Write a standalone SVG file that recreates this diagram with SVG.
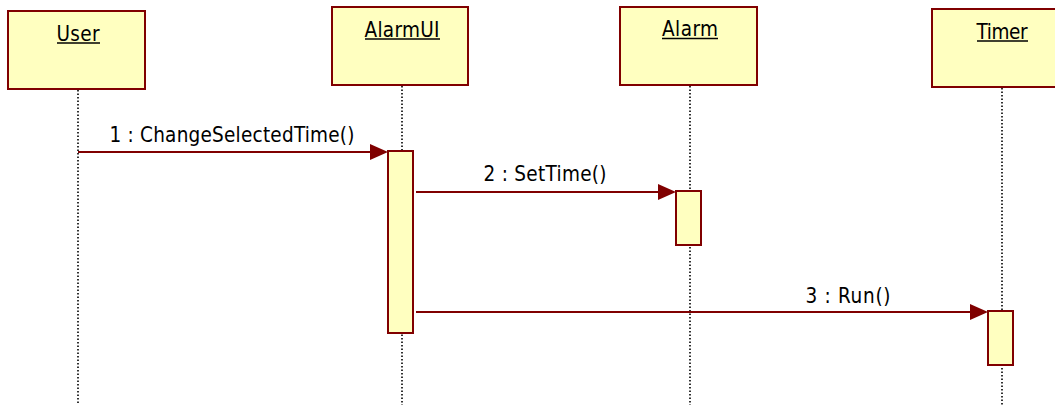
<svg xmlns="http://www.w3.org/2000/svg" width="1055" height="405" viewBox="0 0 1055 405">
<style>
.obj{fill:#FFFFC0;stroke:#800000;stroke-width:2}
.act{fill:#FFFFC0;stroke:#800000;stroke-width:2}
.life{stroke:#000;stroke-width:1.6;stroke-dasharray:1.5,2;fill:none}
.msg{stroke:#800000;stroke-width:2;fill:none}
.head{fill:#800000}
text{font-family:"DejaVu Sans Condensed","DejaVu Sans","Liberation Sans",sans-serif;font-stretch:condensed;font-size:20.5px;fill:#000}
.ul{stroke:#000;stroke-width:1.5}
</style>
<rect width="1055" height="405" fill="#fff"/>
<g id="lifelines">
<line class="life" x1="78" y1="90" x2="78" y2="405"/>
<line class="life" x1="402" y1="86" x2="402" y2="405"/>
<line class="life" x1="690" y1="86" x2="690" y2="405"/>
<line class="life" x1="1002" y1="88" x2="1002" y2="405"/>
</g>
<g id="User">
<rect class="obj" x="8" y="11" width="137" height="78"/>
<text x="78" y="41" text-anchor="middle" textLength="43">User</text>
<line class="ul" x1="57" y1="43" x2="100" y2="43"/>
</g>
<g id="AlarmUI">
<rect class="obj" x="332" y="7" width="136" height="78"/>
<text x="402" y="37" text-anchor="middle" textLength="75">AlarmUI</text>
<line class="ul" x1="365" y1="39" x2="440" y2="39"/>
<rect class="act" x="388" y="151" width="25" height="182"/>
</g>
<g id="Alarm">
<rect class="obj" x="620" y="7" width="137" height="78"/>
<text x="690" y="36" text-anchor="middle" textLength="56">Alarm</text>
<line class="ul" x1="662" y1="38.5" x2="718" y2="38.5"/>
<rect class="act" x="676" y="191" width="25" height="54"/>
</g>
<g id="Timer">
<rect class="obj" x="932" y="9" width="137" height="78"/>
<text x="1002" y="39" text-anchor="middle" textLength="51">Timer</text>
<line class="ul" x1="977" y1="41" x2="1028" y2="41"/>
<rect class="act" x="988" y="311" width="25" height="54"/>
</g>
<g id="connectors">
<line class="msg" x1="78" y1="152" x2="372" y2="152"/>
<polygon class="head" points="388,152 370,144 370,160"/>
<text x="232" y="142" text-anchor="middle" textLength="245">1 : ChangeSelectedTime()</text>
<line class="msg" x1="416" y1="192" x2="660" y2="192"/>
<polygon class="head" points="676,192 658,184 658,200"/>
<text x="545" y="181" text-anchor="middle" textLength="123">2 : SetTime()</text>
<line class="msg" x1="416" y1="312" x2="972" y2="312"/>
<polygon class="head" points="988,312 970,304 970,320"/>
<text x="848" y="303" text-anchor="middle" textLength="85">3 : Run()</text>
</g>
</svg>
